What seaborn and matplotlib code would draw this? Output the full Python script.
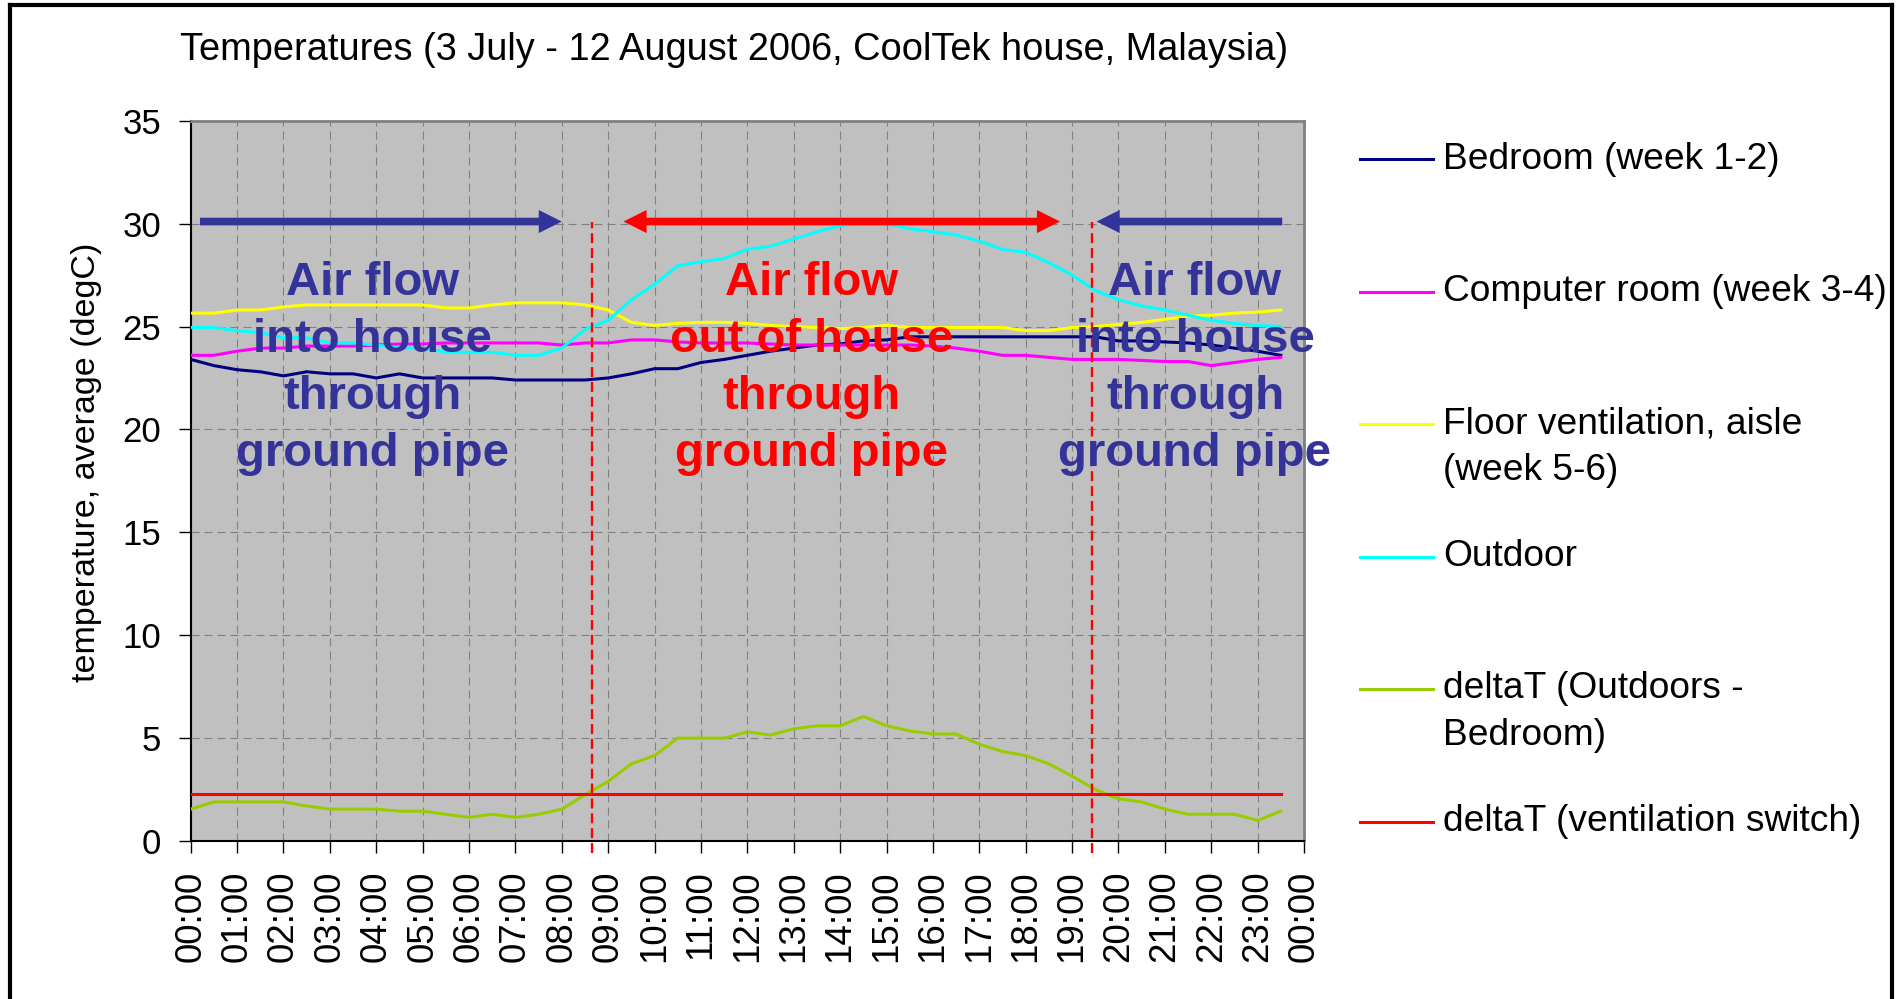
import matplotlib
matplotlib.use("Agg")
import matplotlib.pyplot as plt
from matplotlib.lines import Line2D
import pandas as pd
import seaborn as sns

# ---------------- data ----------------
times = ["00:00", "00:30", "01:00", "01:30", "02:00", "02:30", "03:00", "03:30",
         "04:00", "04:30", "05:00", "05:30", "06:00", "06:30", "07:00", "07:30",
         "08:00", "08:30", "09:00", "09:30", "10:00", "10:30", "11:00", "11:30",
         "12:00", "12:30", "13:00", "13:30", "14:00", "14:30", "15:00", "15:30",
         "16:00", "16:30", "17:00", "17:30", "18:00", "18:30", "19:00", "19:30",
         "20:00", "20:30", "21:00", "21:30", "22:00", "22:30", "23:00", "23:30"]

bedroom = [23.4, 23.1, 22.9, 22.8, 22.6, 22.8, 22.7, 22.7, 22.5, 22.7,
           22.5, 22.5, 22.5, 22.5, 22.4, 22.4, 22.4, 22.4, 22.5, 22.7,
           22.95, 22.95, 23.25, 23.4, 23.6, 23.8, 23.95, 24.1, 24.15, 24.3,
           24.35, 24.5, 24.5, 24.5, 24.5, 24.5, 24.5, 24.5, 24.5, 24.5,
           24.3, 24.3, 24.25, 24.2, 24.1, 23.95, 23.8, 23.6]

computer_room = [23.6, 23.6, 23.8, 23.95, 23.95, 24.05, 24.05, 24.05, 24.1, 24.15,
                 24.15, 24.2, 24.2, 24.2, 24.2, 24.2, 24.1, 24.2, 24.2, 24.35,
                 24.35, 24.25, 24.2, 24.2, 24.2, 24.15, 24.1, 24.1, 24.1, 24.1,
                 24.1, 24.1, 24.05, 23.95, 23.8, 23.6, 23.6, 23.5, 23.4, 23.4,
                 23.4, 23.35, 23.3, 23.3, 23.1, 23.25, 23.4, 23.5]

floor_vent = [25.65, 25.65, 25.8, 25.8, 25.95, 26.05, 26.05, 26.05, 26.05, 26.05,
              26.05, 25.9, 25.9, 26.05, 26.15, 26.15, 26.15, 26.05, 25.8, 25.2,
              25.05, 25.15, 25.2, 25.2, 25.15, 25.05, 25.0, 24.95, 24.9, 24.95,
              25.05, 24.95, 24.95, 24.95, 24.95, 24.95, 24.8, 24.8, 24.95, 25.0,
              25.1, 25.2, 25.35, 25.5, 25.55, 25.65, 25.7, 25.8]

outdoor = [24.95, 24.95, 24.8, 24.7, 24.45, 24.45, 24.2, 24.2, 24.1, 23.95,
           23.95, 23.75, 23.75, 23.75, 23.6, 23.6, 23.95, 24.85, 25.3, 26.3,
           27.05, 27.95, 28.15, 28.3, 28.75, 28.9, 29.25, 29.6, 29.9, 30.05,
           30.0, 29.75, 29.6, 29.45, 29.15, 28.75, 28.6, 28.1, 27.5, 26.75,
           26.3, 26.0, 25.8, 25.55, 25.3, 25.15, 25.05, 25.0]

delta_t = [1.55, 1.9, 1.9, 1.9, 1.9, 1.7, 1.55, 1.55, 1.55, 1.45,
           1.45, 1.3, 1.15, 1.3, 1.15, 1.3, 1.55, 2.25, 2.9, 3.75,
           4.15, 5.0, 5.0, 5.0, 5.3, 5.15, 5.45, 5.6, 5.6, 6.05,
           5.6, 5.35, 5.2, 5.2, 4.7, 4.35, 4.15, 3.75, 3.15, 2.5,
           2.05, 1.9, 1.55, 1.3, 1.3, 1.3, 1.0, 1.45]

switch_delta = 2.3                  # ventilation switch threshold (degC)
switch_hours = [8.65, 19.42]        # moments the air flow direction changes

series_labels = ["Bedroom (week 1-2)", "Computer room (week 3-4)",
                 "Floor ventilation, aisle\n(week 5-6)", "Outdoor",
                 "deltaT (Outdoors -\nBedroom)", "deltaT (ventilation switch)"]
series_colors = ["#000080", "#FF00FF", "#FFFF00", "#00FFFF", "#99CC00", "#FF0000"]

tick_labels = ["00:00", "01:00", "02:00", "03:00", "04:00", "05:00", "06:00",
               "07:00", "08:00", "09:00", "10:00", "11:00", "12:00", "13:00",
               "14:00", "15:00", "16:00", "17:00", "18:00", "19:00", "20:00",
               "21:00", "22:00", "23:00", "00:00"]

title = "Temperatures (3 July - 12 August 2006, CoolTek house, Malaysia)"
ylabel = "temperature, average (degC)"

# ---------------- frame ----------------
hours = [int(t[:2]) + int(t[3:]) / 60 for t in times]
df = pd.DataFrame({"hour": hours,
                   series_labels[0]: bedroom,
                   series_labels[1]: computer_room,
                   series_labels[2]: floor_vent,
                   series_labels[3]: outdoor,
                   series_labels[4]: delta_t,
                   series_labels[5]: [switch_delta] * len(hours)})

plt.rcParams["font.family"] = ["Liberation Sans", "DejaVu Sans"]

W, H = 1904, 999
fig = plt.figure(figsize=(W / 100, H / 100), dpi=100)
fig.patch.set_facecolor("white")
ax = fig.add_axes([190.7 / W, 1 - 841 / H, (1304 - 190.7) / W, (841 - 120.7) / H])
ax.set_facecolor("#C0C0C0")

for lab, col in zip(series_labels, series_colors):
    sns.lineplot(data=df, x="hour", y=lab, color=col, lw=2.2, ax=ax,
                 legend=False, zorder=3)

# dashed switching moments
ax.vlines(switch_hours, -0.6, 30.1, colors="#FF0000", lw=1.7,
          linestyles=[(0, (4.2, 2.1))], zorder=4, clip_on=False)

ax.set_xlim(0, 24)
ax.set_ylim(0, 35)
ax.set_xticks(range(25))
ax.set_xticklabels(tick_labels, rotation=90, fontsize=26.5)
ax.set_yticks(range(0, 36, 5))
ax.tick_params(axis="y", labelsize=25)
ax.tick_params(direction="out", length=8.6, width=1, color="black", pad=12.5)
ax.set_xlabel("")
ax.set_ylabel(ylabel, fontsize=24.5)
ax.yaxis.set_label_coords(-0.08, 0.526)

ax.set_axisbelow(True)
ax.grid(True, color="#808080", lw=0.8, linestyle=(0, (7.2, 4.5)))
for s in ("left", "bottom"):
    ax.spines[s].set_color("black")
    ax.spines[s].set_linewidth(1.5)
for s in ("top", "right"):
    ax.spines[s].set_color("#808080")
    ax.spines[s].set_linewidth(2)

ax.set_title(title, loc="left", x=(180 - 190.7) / (1304 - 190.7),
             y=(841 - 60) / (841 - 120.7), pad=0, fontsize=27.4)

# arrows showing the flow direction
def flow_arrow(x_from, x_to, color):
    ax.annotate("", xy=(x_to, 30.1), xytext=(x_from, 30.1),
                arrowprops=dict(arrowstyle="simple,head_length=1.66,head_width=1.66,tail_width=0.55",
                                mutation_scale=10, color=color, lw=0,
                                shrinkA=0, shrinkB=0),
                zorder=6)

blue_txt = "#333399"
flow_arrow(0.2, 8.0, blue_txt)
flow_arrow(14.0, 9.33, "#FF0000")
flow_arrow(14.0, 18.74, "#FF0000")
flow_arrow(23.53, 19.53, blue_txt)

flow_in = "Air flow\ninto house\nthrough\nground pipe"
flow_out = "Air flow\nout of house\nthrough\nground pipe"
for xc, txt, col in [(3.91, flow_in, blue_txt), (13.39, flow_out, "#FF0000"),
                     (21.65, flow_in, blue_txt)]:
    # baseline of the last line ("ground pipe")
    ax.text(xc, 18.22, txt, ha="center", va="baseline", multialignment="center",
            fontsize=34, fontweight="bold", color=col, linespacing=1.38,
            zorder=7, clip_on=False)

# legend (Excel style, evenly spaced entries, handle at first text line)
for i, (lab, col) in enumerate(zip(series_labels, series_colors)):
    yh = 159.3 + 132.5 * i
    fig.add_artist(Line2D([1360 / W, 1433 / W], [1 - yh / H, 1 - yh / H],
                          color=col, lw=2.2))
    n_extra = lab.count("\n")
    y_base = yh + 9.5 + 46 * n_extra
    fig.text(1443 / W, 1 - y_base / H, lab, fontsize=26.7, va="baseline",
             ha="left", linespacing=1.42)

# outer frame of the pasted chart
frame_kw = dict(color="black", lw=3, solid_capstyle="projecting")
fig.add_artist(Line2D([10 / W, 10 / W], [0, 1 - 5 / H], **frame_kw))
fig.add_artist(Line2D([10 / W, 1892 / W], [1 - 5 / H, 1 - 5 / H], **frame_kw))
fig.add_artist(Line2D([1892 / W, 1892 / W], [0, 1 - 5 / H], **frame_kw))

fig.savefig("out.png", dpi=100)
